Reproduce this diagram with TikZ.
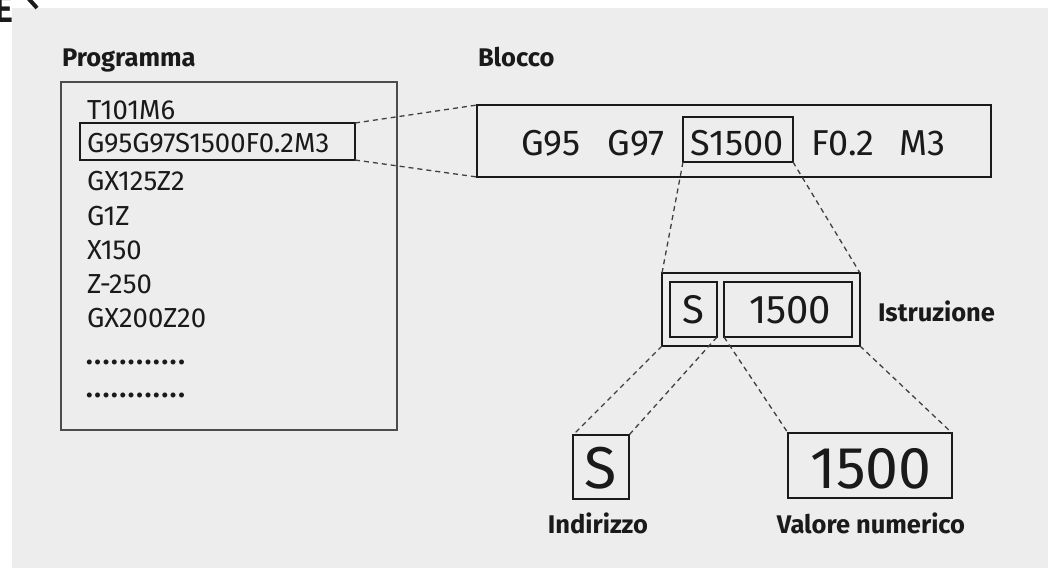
\documentclass[tikz,border=0pt]{standalone}
\usepackage{fontspec}
\setmainfont{Fira Sans}
\definecolor{bg}{HTML}{EDEDED}
\definecolor{ink}{HTML}{1A1A1A}
\newcommand{\dotrow}{\foreach \i in {1,...,12}{\makebox[8.4pt][l]{\bfseries .}}}
\begin{document}
\begin{tikzpicture}[x=1pt,y=-1pt,
  every node/.style={inner sep=0pt, outer sep=0pt, text=ink},
  frame/.style={draw=ink, line width=#1, minimum width=0pt, minimum height=0pt},
  frame/.default=1.6pt,
  listtxt/.style={anchor=base west, font=\fontsize{27.5}{27.5}\selectfont},
  codetxt/.style={anchor=base, font=\fontsize{36}{36}\selectfont},
  midtxt/.style={anchor=base, font=\fontsize{40}{40}\selectfont},
  bigtxt/.style={anchor=base, font=\fontsize{59}{59}\selectfont},
  lbl/.style={font=\bfseries\fontsize{25.5}{25.5}\selectfont},
  link/.style={draw=black!75, line width=1.3pt, dash pattern=on 5pt off 4pt}
]
\useasboundingbox (0,0) rectangle (1048,568);
\fill[white] (0,0) rectangle (1048,568);
\fill[bg] (12,8) rectangle (1048,568);
% fragment at top-left
\node[anchor=base east, font=\bfseries\fontsize{38}{38}\selectfont] (frag) at (13,22) {E};
\draw[ink, line width=4pt] (28,-2) -- (37,8);

% Programma
\node[lbl, anchor=base west] (lprog) at (62,66) {Programma};
\node[draw=black!70, line width=1.5pt, minimum width=336pt, minimum height=348pt] (prog) at (229,256) {};
\node[frame=1.5pt, minimum width=275pt, minimum height=37pt] (hl) at (217.5,141.5) {};
\node[listtxt] (l1) at (87,119.5) {T101M6};
\node[listtxt] (l2) at (87,152) {G95G97S1500F0.2M3};
\node[listtxt] (l3) at (87,190) {GX125Z2};
\node[listtxt] (l4) at (87,225) {G1Z};
\node[listtxt] (l5) at (87,259) {X150};
\node[listtxt] (l6) at (87,293) {Z-250};
\node[listtxt] (l7) at (87,327) {GX200Z20};
\node[listtxt] (l8) at (86,364) {\dotrow};
\node[listtxt] (l9) at (86,397) {\dotrow};

% Blocco
\node[lbl, anchor=base west] (lblocco) at (478,66) {Blocco};
\node[frame=2pt, minimum width=514pt, minimum height=72pt] (blocco) at (734,141) {};
\node[frame=1.6pt, minimum width=110pt, minimum height=45pt] (sbox) at (738,139.5) {};
\node[codetxt] (t1) at (551,155) {G95};
\node[codetxt] (t2) at (636,155) {G97};
\node[codetxt] (t3) at (737,155) {S1500};
\node[codetxt] (t4) at (843,155) {F0.2};
\node[codetxt] (t5) at (922,155) {M3};

% Istruzione
\node[frame=2pt, minimum width=198pt, minimum height=73pt] (istr) at (761,309.5) {};
\node[frame=1.6pt, minimum width=47pt, minimum height=55pt] (is) at (693.5,309.5) {};
\node[frame=1.6pt, minimum width=128pt, minimum height=55pt] (iv) at (788,309.5) {};
\node[midtxt] (ist) at (693.5,323) {S};
\node[midtxt] (ivt) at (790,323) {1500};
\node[lbl, anchor=base west] (listr) at (878,321) {Istruzione};

% bottom
\node[frame=1.8pt, minimum width=56pt, minimum height=64pt] (bs) at (601,467) {};
\node[frame=1.8pt, minimum width=164pt, minimum height=65pt] (bv) at (870,465.5) {};
\node[bigtxt] (bst) at (601,488) {S};
\node[bigtxt] (bvt) at (871,488) {1500};
\node[lbl, anchor=base] (lind) at (598,533) {Indirizzo};
\node[lbl, anchor=base] (lval) at (871,533) {Valore numerico};

% connectors
\draw[link] (hl.north east) -- (blocco.north west);
\draw[link] (hl.south east) -- (blocco.south west);
\draw[link] (sbox.south west) -- (istr.north west);
\draw[link] (sbox.south east) -- (istr.north east);
\draw[link] (istr.south west) -- (bs.north west);
\draw[link] (is.south east) -- (bs.north east);
\draw[link] (iv.south west) -- (bv.north west);
\draw[link] (istr.south east) -- (bv.north east);
\end{tikzpicture}
\end{document}
